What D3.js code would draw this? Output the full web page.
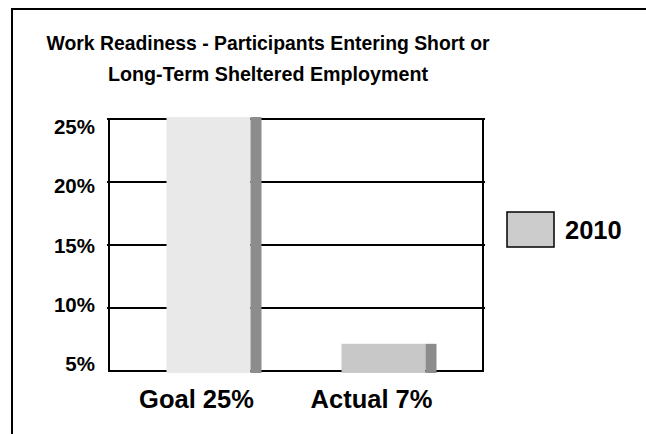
<!DOCTYPE html>
<html>
<head>
<meta charset="utf-8">
<script src="https://cdn.jsdelivr.net/npm/d3@7"></script>
<style>
  body { margin: 0; background: #fff; }
  svg { display: block; }
  text { font-family: "Liberation Sans", Arial, sans-serif; font-weight: bold; fill: #000; }
</style>
</head>
<body>
<svg id="chart" width="646" height="434"></svg>
<script>
// Chart data
const titleLines = [
  "Work Readiness - Participants Entering Short or",
  "Long-Term Sheltered Employment"
];
const categories = ["Goal 25%", "Actual 7%"];
const values = [25, 7];
const seriesName = "2010";
const yTicks = [5, 10, 15, 20, 25];
const yDomain = [5, 25];

// Per-bar front-face fills, shared side-face fill
const frontFills = ["#e9e9e9", "#c8c8c8"];
const sideFill = "#8c8c8c";
const legendFill = "#cccccc";

const svg = d3.select("#chart");

// Outer frame (runs off the right and bottom edges)
svg.append("rect")
  .attr("x", 12).attr("y", 9)
  .attr("width", 700).attr("height", 500)
  .attr("fill", "none").attr("stroke", "#000").attr("stroke-width", 2);

// Title, fitted to its line widths
const titleWidths = [443, 320];
svg.append("g").selectAll("text")
  .data(titleLines)
  .join("text")
  .attr("x", 268)
  .attr("y", (d, i) => 50 + i * 31)
  .attr("text-anchor", "middle")
  .attr("font-size", "20.5px")
  .attr("textLength", (d, i) => titleWidths[i])
  .attr("lengthAdjust", "spacingAndGlyphs")
  .text(d => d);

// Plot area
const plot = { left: 109, right: 483, top: 119, bottom: 371 };

const y = d3.scaleLinear().domain(yDomain).range([plot.bottom, plot.top]);
// tick labels sit a little below their gridlines, converging to the baseline at the bottom
const yLabel = y.copy().range([plot.bottom, plot.top + 15]);

const x = d3.scalePoint()
  .domain(categories)
  .range([plot.left, plot.right])
  .padding(0.5686);

const frontW = 84, sideW = 11;

// Gridlines (hidden behind the bars)
svg.append("g").selectAll("line")
  .data(yTicks.filter(t => t > yDomain[0]))
  .join("line")
  .attr("x1", plot.left - 2).attr("x2", plot.right + 2)
  .attr("y1", d => y(d)).attr("y2", d => y(d))
  .attr("stroke", "#000").attr("stroke-width", 2);

// Plot frame: left, right and baseline
const frame = svg.append("g").attr("stroke", "#000").attr("stroke-width", 2);
frame.append("line")
  .attr("x1", plot.left).attr("x2", plot.left)
  .attr("y1", y(yDomain[1]) - 1).attr("y2", y(yDomain[0]) + 1);
frame.append("line")
  .attr("x1", plot.right).attr("x2", plot.right)
  .attr("y1", y(yDomain[1]) - 1).attr("y2", y(yDomain[0]) + 1);
frame.append("line")
  .attr("x1", plot.left).attr("x2", plot.right + 1)
  .attr("y1", y(yDomain[0])).attr("y2", y(yDomain[0]));

// Y tick labels
svg.append("g").selectAll("text")
  .data(yTicks)
  .join("text")
  .attr("x", 95)
  .attr("y", d => yLabel(d))
  .attr("text-anchor", "end")
  .attr("font-size", "20.5px")
  .text(d => d + "%");

// Bars: light front face plus darker side face
const bars = svg.append("g").selectAll("g")
  .data(categories.map((c, i) => ({ c, v: values[i], fill: frontFills[i] })))
  .join("g");

const barLeft = d => x(d.c) + 5.5 - (frontW + sideW) / 2;

bars.append("rect")
  .attr("x", d => barLeft(d))
  .attr("y", d => y(d.v) - 2)
  .attr("width", frontW)
  .attr("height", d => y(yDomain[0]) + 4 - y(d.v))
  .attr("fill", d => d.fill);

bars.append("rect")
  .attr("x", d => barLeft(d) + frontW)
  .attr("y", d => y(d.v) - 2)
  .attr("width", sideW)
  .attr("height", d => y(yDomain[0]) + 4 - y(d.v))
  .attr("fill", sideFill);

// Category labels
svg.append("g").selectAll("text")
  .data(categories)
  .join("text")
  .attr("x", d => x(d) - 12)
  .attr("y", 408)
  .attr("text-anchor", "middle")
  .attr("font-size", "25.5px")
  .text(d => d);

// Legend
const legend = svg.append("g");
legend.append("rect")
  .attr("x", 507).attr("y", 212)
  .attr("width", 47).attr("height", 35)
  .attr("fill", legendFill)
  .attr("stroke", "#000").attr("stroke-width", 1.5);
legend.append("text")
  .attr("x", 565).attr("y", 239)
  .attr("font-size", "25.5px")
  .text(seriesName);
</script>
</body>
</html>
